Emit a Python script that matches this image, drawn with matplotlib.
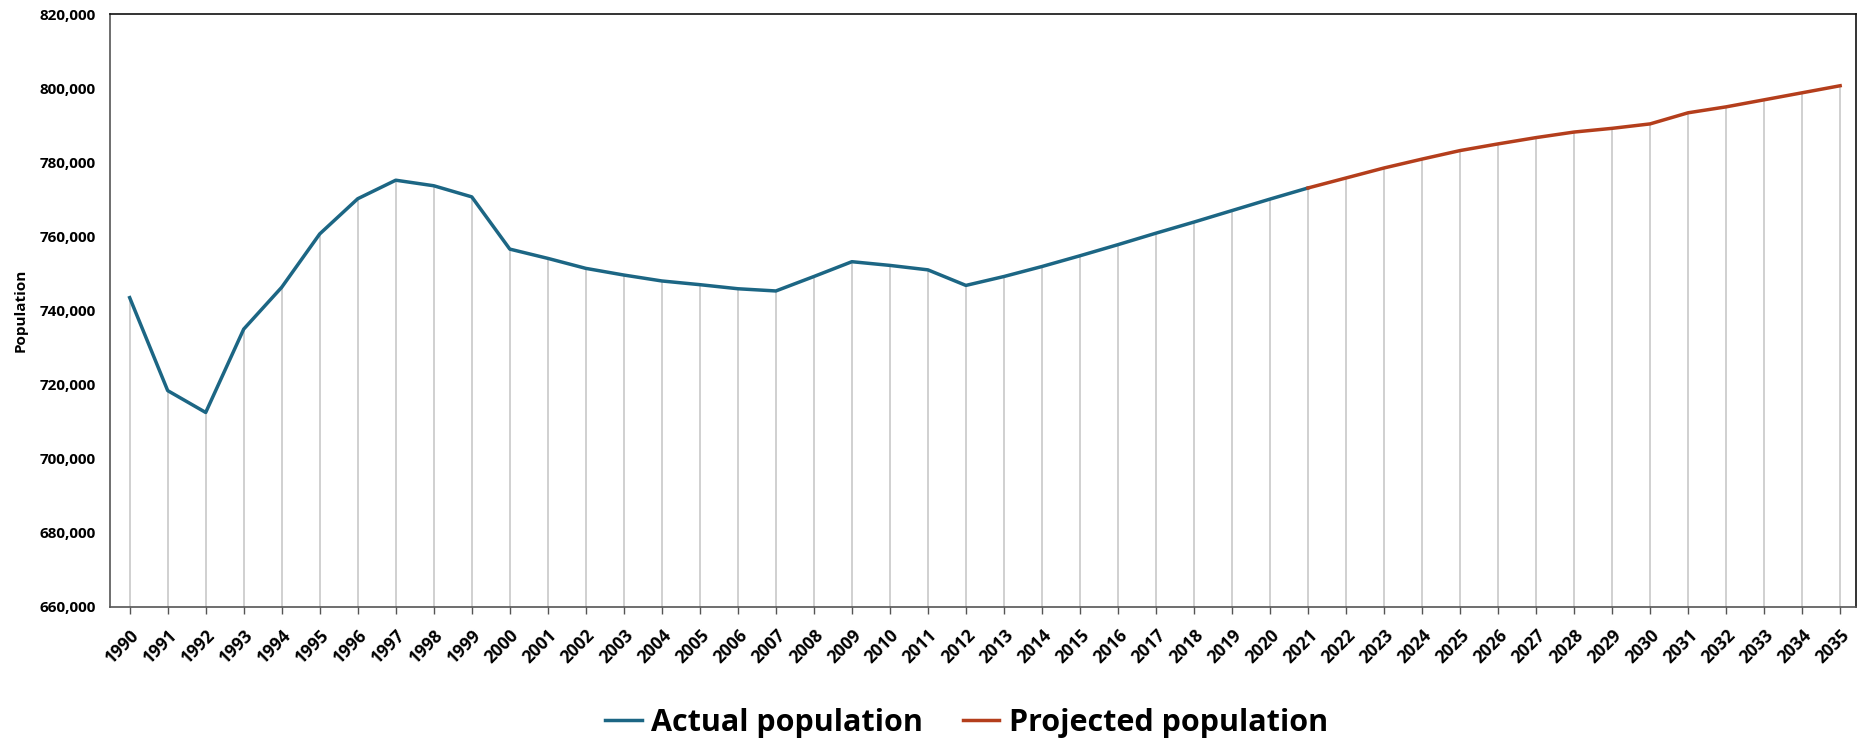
import matplotlib.pyplot as plt
from matplotlib.ticker import FuncFormatter
import numpy as np

plt.rcParams['font.family'] = ['Open Sans', 'DejaVu Sans']

# yearly population, actual then projected (projection starts from the 2021 value)
actual_years = list(range(1990, 2022))
actual_pop = [743500, 718400, 712500, 735000, 746300, 760700, 770200, 775200,
              773700, 770700, 756600, 754100, 751400, 749600, 748000, 747000,
              745900, 745300, 749200, 753200, 752200, 751000, 746800, 749200,
              751900, 754800, 757800, 760900, 763900, 767000, 770100, 773100]
proj_years = list(range(2021, 2036))
proj_pop = [773100, 775800, 778500, 780900, 783200, 785000, 786700, 788200,
            789200, 790400, 793400, 795000, 796900, 798800, 800700]

blue = '#1c6684'
red = '#b43e1c'

fig = plt.figure(figsize=(18.66, 7.42), dpi=100)
ax = fig.add_axes([0.0587, 0.182, 0.936, 0.7988])

# drop lines from the axis up to each point
all_years = actual_years + proj_years[1:]
all_pop = actual_pop + proj_pop[1:]
ax.vlines(all_years, 660000, all_pop, color='#c3c3c3', lw=1.1, zorder=1)

ax.plot(actual_years, actual_pop, color=blue, lw=2.5, label='Actual population', zorder=3)
ax.plot(proj_years, proj_pop, color=red, lw=2.5, label='Projected population', zorder=3)

ax.set_xlim(1989.47, 2035.42)
ax.set_ylim(660000, 820000)
ax.set_yticks(np.arange(660000, 820001, 20000))
ax.yaxis.set_major_formatter(FuncFormatter(lambda v, p: f'{int(v):,}'))
ax.set_xticks(all_years)
ax.set_xticklabels([str(y) for y in all_years], rotation=45, ha='right',
                   rotation_mode='anchor', fontsize=12.5, fontweight='bold')
for lbl in ax.get_yticklabels():
    lbl.set_fontsize(11)
    lbl.set_fontweight('bold')

ax.tick_params(axis='y', length=0, pad=10)
ax.tick_params(axis='x', length=5, width=1, color='#555555', pad=9)

ax.spines['left'].set_color('#555555')
ax.spines['bottom'].set_color('#555555')
ax.spines['top'].set_color('#111111')
ax.spines['right'].set_color('#111111')
for s in ax.spines.values():
    s.set_linewidth(1.2)

ax.set_ylabel('Population', fontsize=11, fontweight='bold', labelpad=6)
ax.yaxis.set_label_coords(-0.047, 0.5)

fig.legend(loc='center', bbox_to_anchor=(0.518, 0.026), ncol=2, frameon=False,
           prop={'size': 22, 'weight': 'bold'}, handlelength=1.2,
           columnspacing=1.3, handletextpad=0.3)

fig.savefig('out.png', dpi=100)
